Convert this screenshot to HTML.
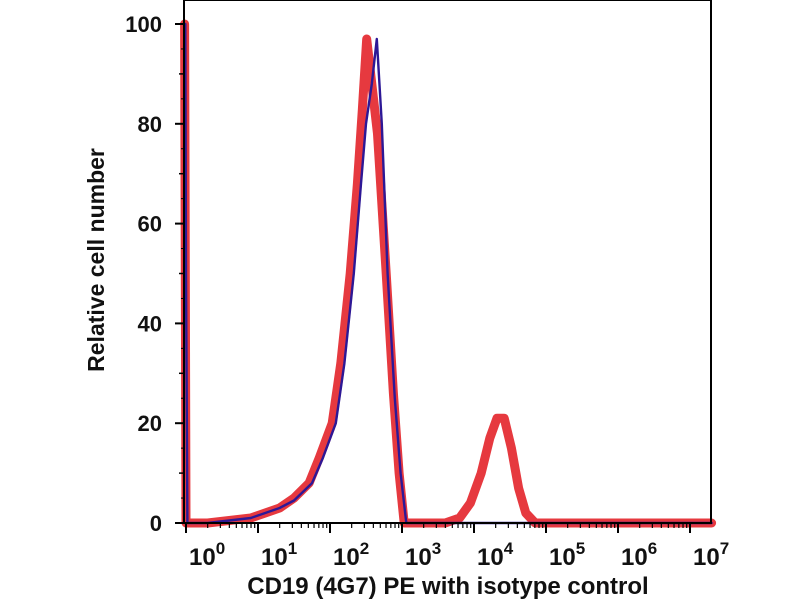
<!DOCTYPE html>
<html><head><meta charset="utf-8"><style>
html,body{margin:0;padding:0;background:#fff;}
svg text{font-family:"Liberation Sans",Arial,sans-serif;font-weight:bold;fill:#111;}
</style></head><body>
<svg id="chart" width="800" height="600" viewBox="0 0 800 600" xmlns="http://www.w3.org/2000/svg">
<rect width="800" height="600" fill="#fff"/>
<g id="plot"></g>
</svg>
<script>
const yTicks=[0,20,40,60,80,100];
const xDecades=[0,1,2,3,4,5,6,7];
const redLog=[-0.02,0.0,0.3,0.6,0.9,1.1,1.3,1.5,1.71,1.85,2.03,2.15,2.28,2.38,2.45,2.51,2.58,2.66,2.78,2.88,2.96,3.03,3.2,3.6,3.8,3.95,4.1,4.22,4.32,4.42,4.52,4.62,4.72,4.85,7.3];
const redVal=[100,0,0,0.5,1,2,3,5,8,13,20,32,50,68,83,97,88,78,50,26,10,0,0,0,1,4,10,17,21,21,15,7,2,0,0];
const blueLog=[-0.01,0.0,0.02,0.3,0.6,0.9,1.1,1.3,1.5,1.75,1.9,2.08,2.2,2.33,2.43,2.5,2.58,2.65,2.72,2.8,2.9,2.98,3.06,3.2,7.3];
const blueVal=[100,50,0,0,0.5,1,2,3,4.5,8,13,20,32,50,68,80,88,97,80,50,25,10,0,0,0];
const X0=186, DEC=72.0, Y0=523, YS=4.99;
const xS=l=>X0+l*DEC, yS=v=>Y0-v*YS;
const NS="http://www.w3.org/2000/svg";
const g=document.getElementById('plot');
function mk(t,a){const e=document.createElementNS(NS,t);for(const k in a)e.setAttribute(k,a[k]);return e;}
function path(ls,vs,color,w,name){
  let d=ls.map((l,i)=>(i?'L':'M')+xS(l).toFixed(1)+','+yS(vs[i]).toFixed(1)).join(' ');
  const p=mk('path',{d:d,fill:'none',stroke:color,'stroke-width':w,'stroke-linejoin':'round','stroke-linecap':'round'});
  
  
  g.appendChild(p);
}
path(redLog,redVal,'#e6393f',9,'series-cd19-pe');
path(blueLog,blueVal,'#2d1896',2.4,'series-isotype-control');
const fr=mk('rect',{x:184,y:0,width:527,height:523,fill:'none',stroke:'#000','stroke-width':2});


g.appendChild(fr);
yTicks.forEach(v=>{
  const y=yS(v);
  g.appendChild(mk('line',{x1:175,x2:184,y1:y,y2:y,stroke:'#000','stroke-width':2}));
  const t=mk('text',{x:162,y:y+8,'text-anchor':'end','font-size':22});
  t.textContent=v;
  
  
  g.appendChild(t);
});
for(let v=10;v<100;v+=20){g.appendChild(mk('line',{x1:179,x2:184,y1:yS(v),y2:yS(v),stroke:'#000','stroke-width':1.5}));}
for(let v=5;v<100;v+=10){g.appendChild(mk('line',{x1:181,x2:184,y1:yS(v),y2:yS(v),stroke:'#000','stroke-width':1}));}
xDecades.forEach(d=>{
  const x=xS(d);
  g.appendChild(mk('line',{x1:x,x2:x,y1:523,y2:533,stroke:'#000','stroke-width':2}));
  if(d<7){for(let m=2;m<10;m++){const xm=xS(d+Math.log10(m));g.appendChild(mk('line',{x1:xm,x2:xm,y1:523,y2:528,stroke:'#000','stroke-width':1.2}));}}
  const t=mk('text',{x:x+3,y:565,'font-size':24});
  
  
  t.textContent='10';
  const s=mk('tspan',{dy:-11,'font-size':17});s.textContent=d;t.appendChild(s);
  g.appendChild(t);
});
const xt=mk('text',{x:448,y:594,'text-anchor':'middle','font-size':24});
xt.textContent='CD19 (4G7) PE with isotype control';


g.appendChild(xt);
const yt=mk('text',{x:0,y:0,'text-anchor':'middle','font-size':23,transform:'translate(104,260) rotate(-90)'});
yt.textContent='Relative cell number';


g.appendChild(yt);
</script>
</body></html>
